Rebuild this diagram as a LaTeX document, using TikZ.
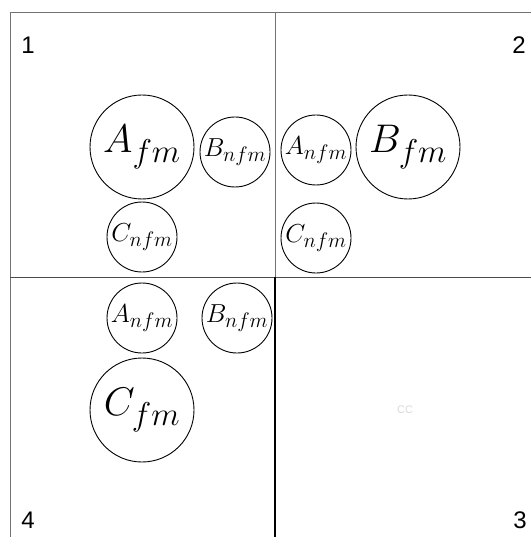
\documentclass[tikz,border=0pt]{standalone}
\usepackage{fix-cm}
\usepackage{fontspec}
\setsansfont{Liberation Sans}
\DeclareMathSizes{40}{40}{33}{26}
\DeclareMathSizes{26}{26}{21}{17}

\begin{document}
\begin{tikzpicture}[x=1pt,y=-1pt,
  fmcirc/.style={circle,draw,line width=0.9pt,minimum size=104pt,inner sep=0pt,font=\fontsize{40}{40}\selectfont},
  nfmcirc/.style={circle,draw,line width=0.9pt,minimum size=70pt,inner sep=0pt,font=\fontsize{26}{26}\selectfont},
  quadnum/.style={font=\sffamily\fontsize{24}{24}\selectfont,inner sep=0pt}]
  \useasboundingbox (0,0) rectangle (531,537);
  % quadrant grid
  \draw[black!55,line width=0.9pt] (531,12) -- (10,12) -- (10,537);
  \draw[black!70,line width=1.0pt] (10,277) -- (531,277);
  \draw[black!55,line width=0.9pt] (275,12) -- (275,277);
  \draw[line width=1.1pt] (275,277) -- (275,537);
  % quadrant numbers
  \node[quadnum] (q1) at (28,45) {1};
  \node[quadnum] (q2) at (519,45) {2};
  \node[quadnum] (q3) at (520,520) {3};
  \node[quadnum] (q4) at (28,520) {4};
  % quadrant 1
  \node[fmcirc] (afm) at (142,147) {$A_{fm}$};
  \node[nfmcirc] (bnfmone) at (235,152) {$B_{nfm}$};
  \node[nfmcirc] (cnfmone) at (142,237) {$C_{nfm}$};
  % quadrant 2
  \node[nfmcirc] (anfmtwo) at (316,150) {$A_{nfm}$};
  \node[fmcirc] (bfm) at (408,147) {$B_{fm}$};
  \node[nfmcirc] (cnfmtwo) at (316,238) {$C_{nfm}$};
  % quadrant 4
  \node[nfmcirc] (anfmfour) at (142,318) {$A_{nfm}$};
  \node[nfmcirc] (bnfmfour) at (237,318) {$B_{nfm}$};
  \node[fmcirc] (cfm) at (142,410) {$C_{fm}$};
  % quadrant 3
  \node[font=\sffamily\fontsize{11}{11}\selectfont,text=black!15] (cc) at (405,410) {CC};
\end{tikzpicture}
\end{document}
